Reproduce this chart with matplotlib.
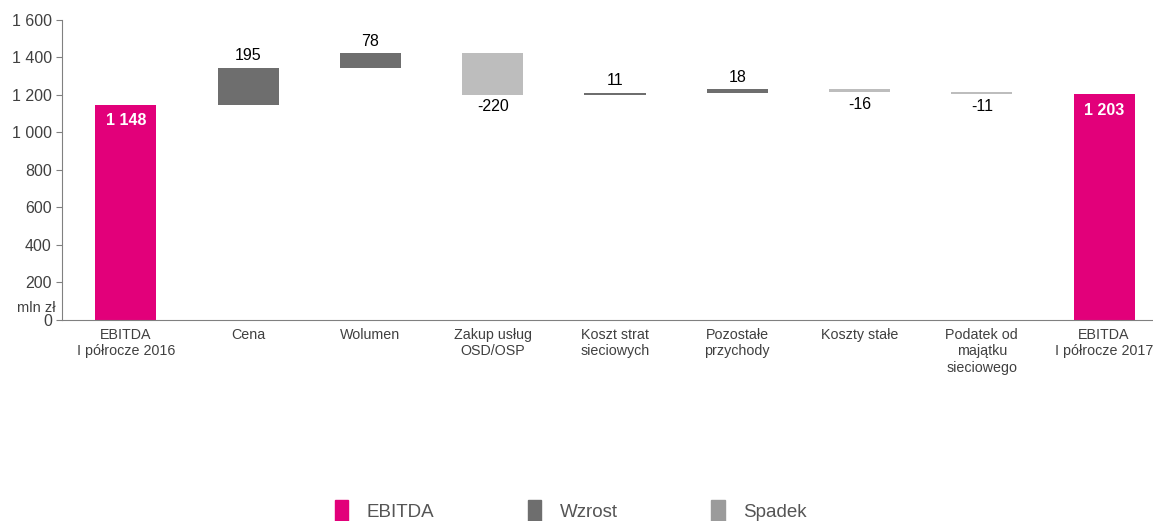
import matplotlib.pyplot as plt
from matplotlib.patches import Patch
import numpy as np

plt.rcParams['font.family'] = ['Liberation Sans', 'DejaVu Sans']

categories = ["EBITDA\nI półrocze 2016", "Cena", "Wolumen", "Zakup usług\nOSD/OSP",
              "Koszt strat\nsieciowych", "Pozostałe\nprzychody", "Koszty stałe",
              "Podatek od\nmajątku\nsieciowego", "EBITDA\nI półrocze 2017"]
changes = [1148, 195, 78, -220, 11, 18, -16, -11, 1203]
kinds = ["total", "up", "up", "down", "up", "up", "down", "down", "total"]

col_total = "#e2007a"
col_up = "#6e6e6e"
col_down = "#bdbdbd"
txt_col = "#404040"

fig = plt.figure(figsize=(11.53, 5.21), dpi=100)
ax = fig.add_axes([0.054, 0.386, 0.946, 0.576])

x = np.arange(len(categories))
running = 0
for i, (v, k) in enumerate(zip(changes, kinds)):
    if k == "total":
        ax.bar(i, v, width=0.5, color=col_total)
        running = v
        ax.text(i, v - 45, f"{v:,}".replace(",", " "), ha="center", va="top",
                color="white", fontsize=11.5, fontweight="bold")
    else:
        bottom = running if v > 0 else running + v
        c = col_up if k == "up" else col_down
        ax.bar(i, abs(v), bottom=bottom, width=0.5, color=c)
        if v > 0:
            ax.text(i, running + v + 25, str(v), ha="center", va="bottom",
                    color="black", fontsize=11.5)
        else:
            ax.text(i, running + v - 25, str(v), ha="center", va="top",
                    color="black", fontsize=11.5)
        running += v

ax.set_xlim(-0.52, 8.4)
ax.set_ylim(0, 1600)
ax.set_yticks(range(0, 1601, 200))
ax.set_yticklabels([f"{t:,}".replace(",", " ") for t in range(0, 1601, 200)],
                   fontsize=11.5, color=txt_col)
ax.set_xticks(x)
ax.set_xticklabels(categories, fontsize=10.3, color=txt_col, va="top")
ax.tick_params(axis="x", length=0, pad=6)
ax.tick_params(axis="y", length=4, color="#808080")
for s in ["top", "right"]:
    ax.spines[s].set_visible(False)
for s in ["left", "bottom"]:
    ax.spines[s].set_color("#808080")

ax.text(-0.006, 0.04, "mln zł", transform=ax.transAxes, ha="right", va="center",
        fontsize=10.5, color=txt_col)

handles = [Patch(color=col_total, label="EBITDA"),
           Patch(color="#6e6e6e", label="Wzrost"),
           Patch(color="#9b9b9b", label="Spadek")]
fig.legend(handles=handles, loc="lower center", ncol=3, frameon=False,
           bbox_to_anchor=(0.495, -0.033), fontsize=13.5, columnspacing=5.0,
           handlelength=0.7, handleheight=1.4, handletextpad=1.0,
           labelcolor="#555555")

fig.savefig("out.png", dpi=100)
